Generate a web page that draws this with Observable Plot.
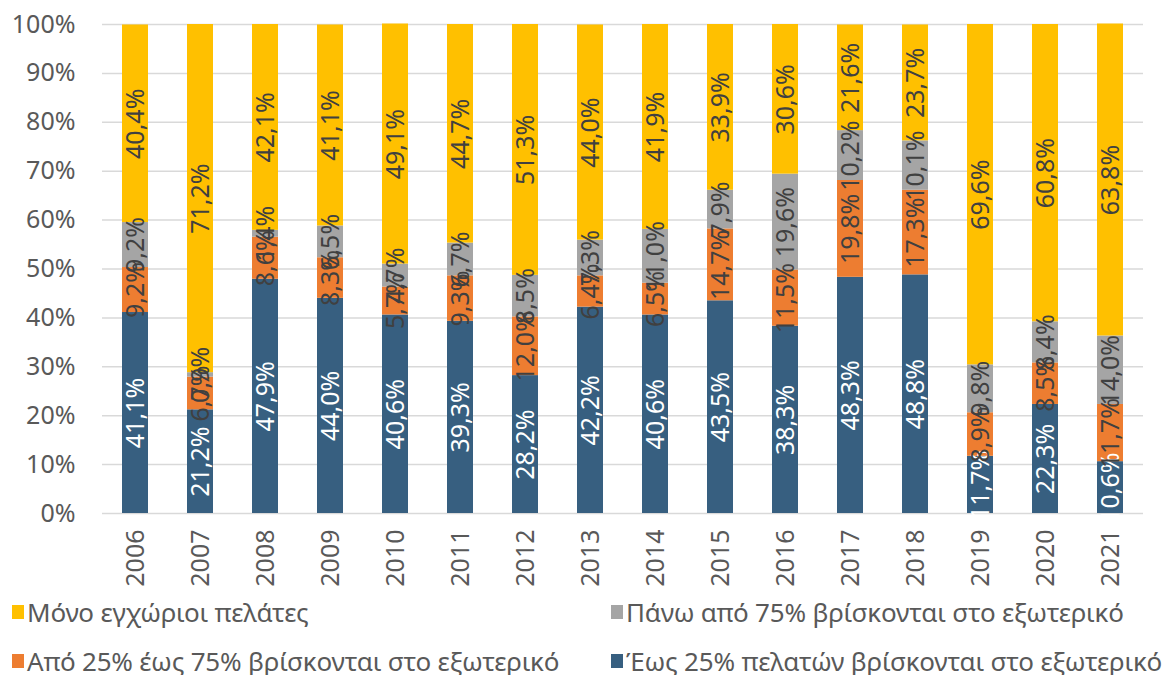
<!DOCTYPE html>
<html>
<head>
<meta charset="utf-8">
<script src="https://cdn.jsdelivr.net/npm/d3@7"></script>
<script src="https://cdn.jsdelivr.net/npm/@observablehq/plot@0.6"></script>
<style>
  body { margin: 0; background: #fff; font-family: "Noto Sans", sans-serif; }
  #chart { position: relative; width: 1165px; }
  .legend { display: grid; grid-template-columns: 599px 566px; row-gap: 21px; padding-left: 12px; margin-top: 3px; }
  .item { display: flex; align-items: center; font-size: 26px; color: #595959; white-space: nowrap; line-height: 28px; letter-spacing: -0.2px; }
  .sw { width: 12px; height: 14px; margin-right: 3px; display: inline-block; flex: none; }
</style>
</head>
<body>
<div id="chart"></div>
<script>
const years = ["2006","2007","2008","2009","2010","2011","2012","2013","2014","2015","2016","2017","2018","2019","2020","2021"];
const seriesNames = [
  "Έως 25% πελατών βρίσκονται στο εξωτερικό",
  "Από 25% έως 75% βρίσκονται στο εξωτερικό",
  "Πάνω από 75% βρίσκονται στο εξωτερικό",
  "Μόνο εγχώριοι πελάτες"
];
const seriesColors = ["#375f80", "#ed7d31", "#a5a5a5", "#ffc000"];
const labelColors = ["#ffffff", "#404040", "#404040", "#404040"];
const upTo25 =   [41.1, 21.2, 47.9, 44.0, 40.6, 39.3, 28.2, 42.2, 40.6, 43.5, 38.3, 48.3, 48.8, 11.7, 22.3, 10.6];
const from25to75 = [9.2, 6.7, 8.6, 8.3, 5.7, 9.3, 12.0, 6.4, 6.5, 14.7, 11.5, 19.8, 17.3, 8.9, 8.5, 11.7];
const over75 =   [9.2, 0.9, 1.4, 6.5, 4.7, 6.7, 8.5, 7.3, 11.0, 7.9, 19.6, 10.2, 10.1, 9.8, 8.4, 14.0];
const domesticOnly = [40.4, 71.2, 42.1, 41.1, 49.1, 44.7, 51.3, 44.0, 41.9, 33.9, 30.6, 21.6, 23.7, 69.6, 60.8, 63.8];
const yTicks = [0,10,20,30,40,50,60,70,80,90,100];

const seriesValues = [upTo25, from25to75, over75, domesticOnly];
const data = [];
seriesNames.forEach((s, si) => years.forEach((y, yi) => data.push({year: y, series: s, si, value: seriesValues[si][yi]})));

const fmt = v => v.toFixed(1).replace(".", ",") + "%";
const font = "Noto Sans, sans-serif";

const stackOpts = {x: "year", y: "value", z: "series", order: seriesNames};

const chart = Plot.plot({
  width: 1165,
  height: 595,
  marginLeft: 102,
  marginRight: 22,
  marginTop: 24,
  marginBottom: 82,
  style: {fontFamily: font, background: "white"},
  x: {domain: years, paddingInner: 0.6, paddingOuter: 0.3, label: null},
  y: {domain: [0, 100], label: null},
  marks: [
    Plot.ruleY(yTicks, {stroke: "#d9d9d9", strokeWidth: 1.5}),
    Plot.barY(data, Plot.stackY({...stackOpts, fill: d => seriesColors[d.si]})),
    Plot.text(data, Plot.stackY({...stackOpts, text: d => fmt(d.value), rotate: -90, fill: d => labelColors[d.si], fontSize: 25})),
    Plot.axisY(yTicks, {tickSize: 0, tickPadding: 27, tickFormat: d => d + "%", fontSize: 25, fill: "#595959", label: null}),
    Plot.axisX({tickSize: 0, tickPadding: 16, tickRotate: -90, fontSize: 25, fill: "#595959", label: null})
  ]
});
document.getElementById("chart").appendChild(chart);

// Legend
const legendOrder = [3, 2, 1, 0];
const legend = document.createElement("div");
legend.className = "legend";
legendOrder.forEach(i => {
  const item = document.createElement("div");
  item.className = "item";
  const sw = document.createElement("span");
  sw.className = "sw";
  sw.style.background = seriesColors[i];
  item.appendChild(sw);
  item.appendChild(document.createTextNode(seriesNames[i]));
  legend.appendChild(item);
});
document.getElementById("chart").appendChild(legend);
</script>
</body>
</html>
